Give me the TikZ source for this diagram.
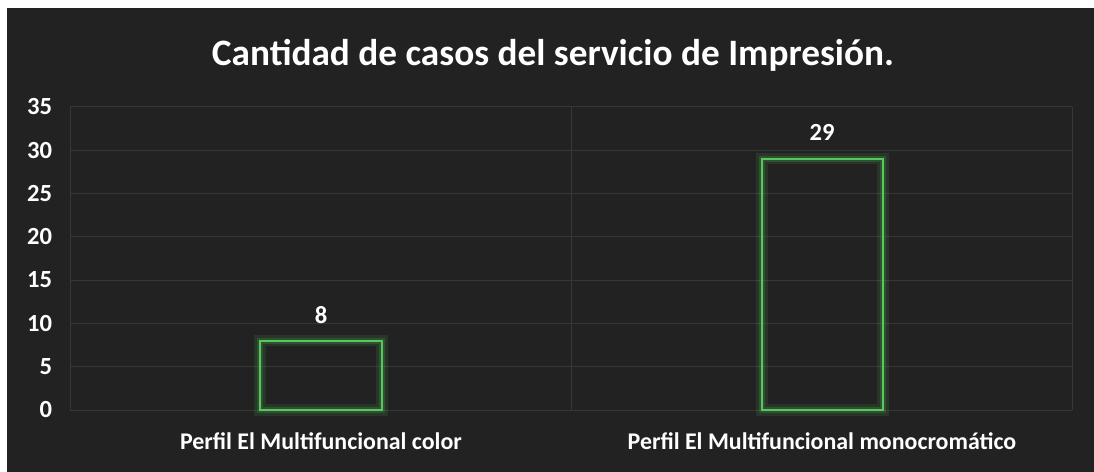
\documentclass[tikz,border=0pt]{standalone}
\usepackage{fontspec}
\setmainfont{Carlito}
\definecolor{chartbg}{RGB}{34,34,34}
\definecolor{gridgray}{RGB}{54,56,54}
\definecolor{bargreen}{RGB}{88,200,92}
\tikzset{
    axislabel/.style={text=white, font=\bfseries\fontsize{17.5}{20}\selectfont, anchor=east},
    catlabel/.style={text=white, font=\bfseries\fontsize{17}{20}\selectfont},
    barbox/.style={draw=bargreen, line width=1.6pt},
    barglow/.style={draw=bargreen, line width=8pt, opacity=0.12},
    barglowin/.style={draw=bargreen, line width=4pt, opacity=0.18},
}
\begin{document}
\begin{tikzpicture}[x=0.025cm, y=0.025cm]
    % Background of the chart
    \useasboundingbox (0,0) rectangle (1094,472);
    \fill[white] (0,0) rectangle (1094,472);
    \fill[chartbg] (7,0) rectangle (1094,464);

    % Title
    \node[text=white, font=\bfseries\fontsize{26.5}{30}\selectfont] (title) at (553,417) {Cantidad de casos del servicio de Impresión.};

    \begin{scope}[shift={(0,62)}, y=0.2165cm]
        % Grid lines
        \foreach \v in {0,5,...,35}
            \draw[gridgray, line width=0.6pt] (70,\v) -- (1072,\v);
        \draw[gridgray, line width=0.6pt] (70,0) -- (70,35);
        \draw[gridgray, line width=0.6pt] (571,0) -- (571,35);
        \draw[gridgray, line width=0.6pt] (1072,0) -- (1072,35);

        % Value axis
        \foreach \v in {0,5,...,35}
            \node[axislabel] (tick\v) at (57,\v) {\v};

        % Bars
        \draw[barglow] (260,0) rectangle (382,8);
        \draw[barglowin] (260,0) rectangle (382,8);
        \draw[barbox] (260,0) rectangle (382,8);
        \draw[barglow] (762,0) rectangle (883,29);
        \draw[barglowin] (762,0) rectangle (883,29);
        \draw[barbox] (762,0) rectangle (883,29);

        % Data labels
        \node[axislabel, anchor=center] (val8) at (321,11) {8};
        \node[axislabel, anchor=center] (val29) at (822,32) {29};
    \end{scope}

    % Category labels
    \node[catlabel] (catcolor) at (321,31) {Perfil El Multifuncional color};
    \node[catlabel] (catmono) at (822,31) {Perfil El Multifuncional monocromático};
\end{tikzpicture}
\end{document}
